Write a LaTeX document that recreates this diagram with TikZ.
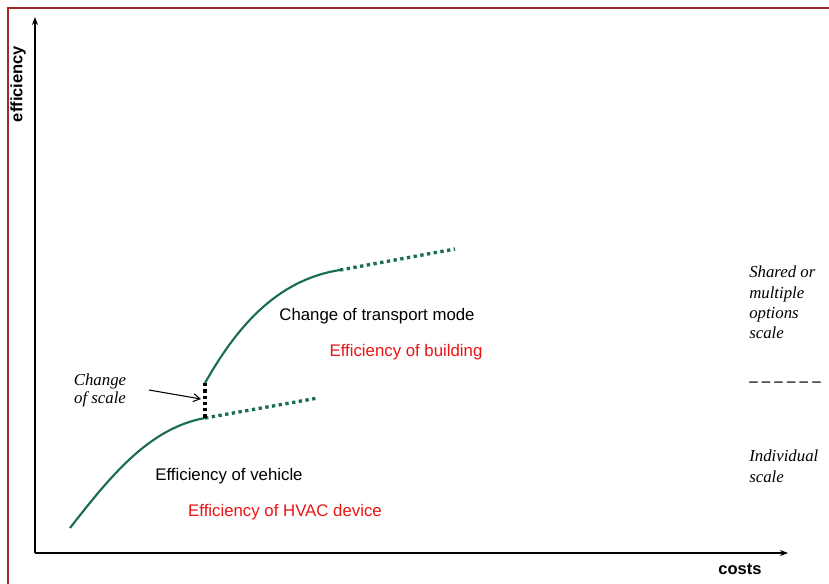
\documentclass[tikz,border=0pt]{standalone}
\usepackage{fontspec}
\setmainfont{Liberation Serif}
\setsansfont{Liberation Sans}
\usetikzlibrary{arrows.meta}
\definecolor{frame}{RGB}{160,40,40}
\definecolor{curve}{RGB}{26,110,80}
\definecolor{redtxt}{RGB}{235,20,20}
\begin{document}
\begin{tikzpicture}[x=0.75pt,y=-0.75pt,
  axis/.style={line width=1.1pt,-{Stealth[length=6pt,width=4.5pt]}},
  solidcurve/.style={curve,line width=1.6pt},
  dotcurve/.style={curve,line width=2.5pt,dash pattern=on 2.5pt off 2.6pt},
  dotblack/.style={black,line width=2.5pt,dash pattern=on 2.5pt off 2.2pt},
  sanslbl/.style={font=\sffamily\fontsize{12.6}{15}\selectfont,inner sep=0pt},
  redlbl/.style={sanslbl,text=redtxt},
  italbl/.style={font=\itshape\fontsize{12.6}{15}\selectfont,inner sep=0pt,align=left},
  axlbl/.style={font=\sffamily\bfseries\fontsize{12.4}{15}\selectfont,inner sep=0pt}]
\useasboundingbox (0,0) rectangle (829,583);
\fill[white] (0,0) rectangle (829,583);
% frame
\draw[frame,line width=1.5pt] (830,8) -- (8,8) -- (8,584);
% axes
\coordinate (o) at (35,553);
\coordinate (ytop) at (35,17);
\coordinate (xend) at (788,553);
\draw[axis] (o) -- (ytop);
\draw[axis] (o) -- (xend);
\node[axlbl,rotate=90] (eff) at (18,84) {efficiency};
\node[axlbl] (costs) at (740,569) {costs};
% curves
\coordinate (l0) at (70,528);
\coordinate (l1) at (205,418);
\coordinate (l2) at (318,398);
\coordinate (u0) at (205,383);
\coordinate (u1) at (340,270);
\coordinate (u2) at (455,249);
\draw[solidcurve] (l0) .. controls (112,474) and (150,428) .. (l1);
\draw[dotcurve] (l1) -- (l2);
\draw[dotblack] (u0) -- (l1);
\draw[solidcurve] (u0) .. controls (235,330) and (275,280) .. (u1);
\draw[dotcurve] (u1) -- (u2);
% labels
\node[italbl,align=center] (cos) at (100,390) {Change\\[-1.5pt]of scale};
\coordinate (arrend) at (201,399);
\draw[line width=0.8pt,-{Straight Barb[length=5pt,width=6pt]}] (149,390) -- (arrend);
\node[sanslbl] (ctm) at (377,316) {Change of transport mode};
\node[redlbl] (eob) at (406,352) {Efficiency of building};
\node[sanslbl] (eov) at (229,476) {Efficiency of vehicle};
\node[redlbl] (hvac) at (285,512) {Efficiency of HVAC device};
\node[italbl,anchor=north west,font=\itshape\fontsize{12.6}{15.2}\selectfont] (shared) at (749,266) {Shared or\\multiple\\options\\scale};
\node[italbl,anchor=west,font=\bfseries\fontsize{12.6}{15}\selectfont] (sep) at (749,384) {– – – – – –};
\node[italbl,anchor=north west,font=\itshape\fontsize{12.6}{15.2}\selectfont] (indiv) at (749,450) {Individual\\scale};
\end{tikzpicture}
\end{document}
